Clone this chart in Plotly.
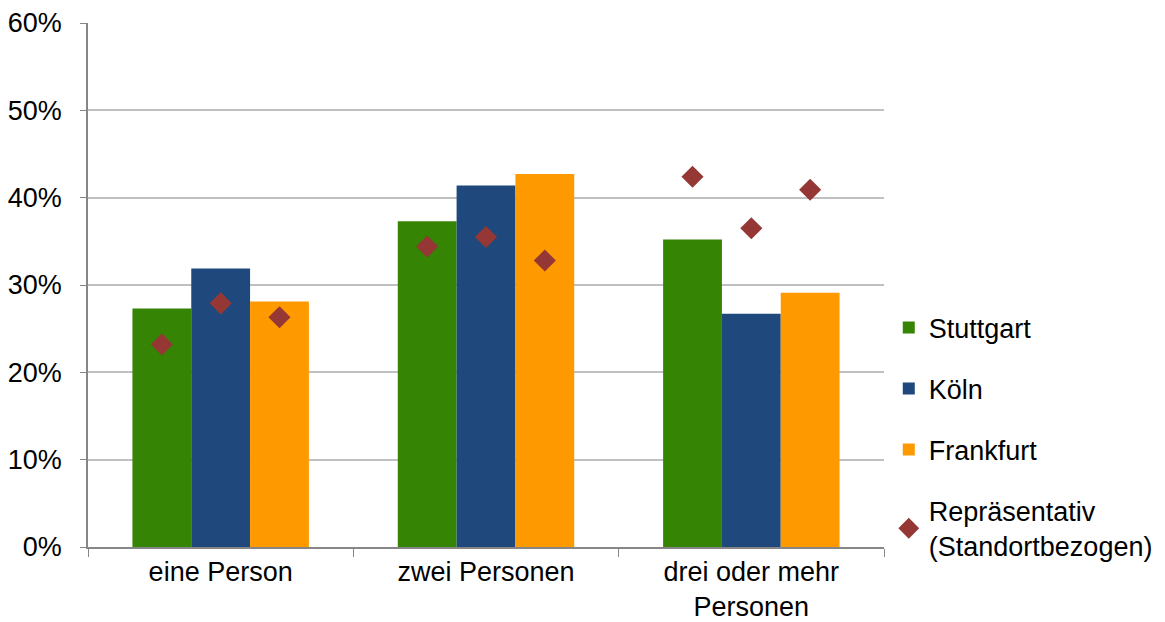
import plotly.graph_objects as go

categories = ["eine Person", "zwei Personen", "drei oder mehr<br>Personen"]

stuttgart = [27.3, 37.3, 35.2]
koeln = [31.9, 41.4, 26.7]
frankfurt = [28.1, 42.7, 29.1]

# representative values, one per city and group
rep_stuttgart = [23.2, 34.4, 42.4]
rep_koeln = [27.9, 35.5, 36.5]
rep_frankfurt = [26.3, 32.8, 40.9]

y_ticks = [0, 10, 20, 30, 40, 50, 60]
y_labels = [f"{v}%" for v in y_ticks]

font = "Liberation Sans, Arial, sans-serif"
rep_color = "#953735"

fig = go.Figure()

bars = [("Stuttgart", stuttgart, "#358404"),
        ("Köln", koeln, "#1F497D"),
        ("Frankfurt", frankfurt, "#FF9900")]
for name, vals, col in bars:
    fig.add_trace(go.Bar(
        x=categories, y=vals, name=name, marker_color=col,
        marker_line_width=0, offsetgroup=name, legendgroup=name,
    ))

reps = [("Stuttgart", rep_stuttgart), ("Köln", rep_koeln), ("Frankfurt", rep_frankfurt)]
for i, (grp, vals) in enumerate(reps):
    fig.add_trace(go.Scatter(
        x=categories, y=vals, mode="markers", name="Repräsentativ<br>(Standortbezogen)",
        marker=dict(symbol="diamond", size=17, color=rep_color),
        offsetgroup=grp, legendgroup="rep", showlegend=(i == 0),
    ))

# the page body adds ~8px offset, margins compensate for it
fig.update_layout(
    width=1165, height=622,
    margin=dict(l=80, r=289, t=15, b=83),
    barmode="group", scattermode="group",
    bargap=0.335, bargroupgap=0,
    plot_bgcolor="white", paper_bgcolor="white",
    font=dict(family=font, size=27, color="#000000"),
    legend=dict(x=1.006, y=0.465, xanchor="left", yanchor="top",
                font=dict(size=27), tracegroupgap=23, itemwidth=30,
                bgcolor="rgba(0,0,0,0)"),
)
fig.update_xaxes(
    showline=True, linecolor="#868686", linewidth=1.5,
    ticks="outside", tickson="boundaries", ticklen=8, tickcolor="#868686",
    tickfont=dict(size=27), automargin=False, ticklabelstandoff=0,
)
fig.update_yaxes(
    range=[0, 60], tickvals=y_ticks, ticktext=y_labels,
    showline=True, linecolor="#868686", linewidth=1.5,
    ticks="outside", ticklen=6, tickcolor="#868686",
    showgrid=True, gridcolor="#C0C0C0", gridwidth=1.5,
    zeroline=False, ticklabelstandoff=13, tickfont=dict(size=27),
    automargin=False,
)

fig.write_html("out.html")
